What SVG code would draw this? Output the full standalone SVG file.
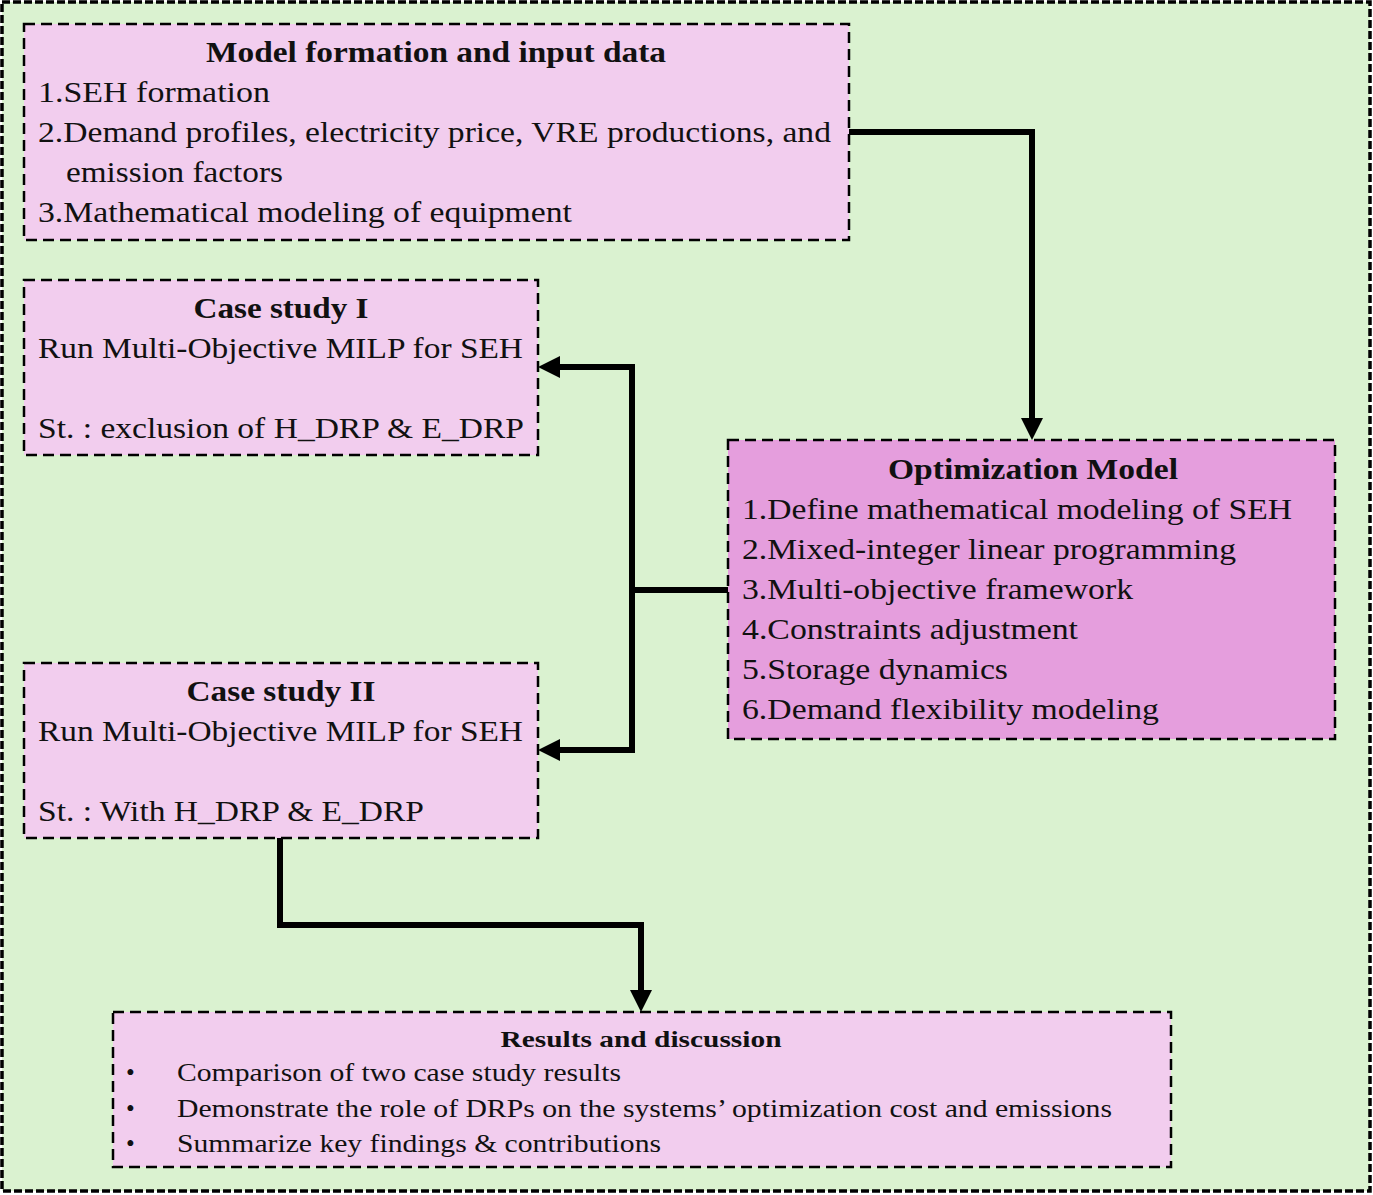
<svg xmlns="http://www.w3.org/2000/svg" width="1373" height="1195" viewBox="0 0 1373 1195">
<style>
.frame{fill:#DAF2D0;stroke:#000;stroke-width:3.5;stroke-dasharray:8 3}
.box{fill:#F2CDEE;stroke:#000;stroke-width:2.5;stroke-dasharray:11 6}
.opt{fill:#E59EDD;stroke:#000;stroke-width:2.5;stroke-dasharray:11 6}
.t{font-size:29px;font-weight:bold;text-anchor:middle}
.b{font-size:29px}
.rt{font-size:24px;font-weight:bold;text-anchor:middle}
.rb{font-size:25px}
.conn{fill:none;stroke:#000;stroke-width:6;stroke-linejoin:miter}
</style>
<defs>
<marker id="ah" viewBox="0 0 22 22" markerWidth="22" markerHeight="22" refX="0" refY="11" orient="auto" markerUnits="userSpaceOnUse">
<path d="M0,0 L22,11 L0,22 z" fill="#000"/>
</marker>
</defs>
<rect class="frame" x="2" y="2" width="1368" height="1189"/>
<g font-family="'Liberation Serif', Tinos, 'Times New Roman', 'Nimbus Roman', serif" fill="#111">
<g id="model-formation">
<rect class="box" x="24" y="24" width="825" height="216"/>
<text class="t" x="436" y="62" textLength="460" lengthAdjust="spacingAndGlyphs">Model formation and input data</text>
<text class="b" x="38" y="102" textLength="232" lengthAdjust="spacingAndGlyphs">1.SEH formation</text>
<text class="b" x="38" y="142" textLength="793" lengthAdjust="spacingAndGlyphs">2.Demand profiles, electricity price, VRE productions, and</text>
<text class="b" x="66" y="182" textLength="217" lengthAdjust="spacingAndGlyphs">emission factors</text>
<text class="b" x="38" y="222" textLength="534" lengthAdjust="spacingAndGlyphs">3.Mathematical modeling of equipment</text>
</g>
<g id="case-study-1">
<rect class="box" x="24" y="280" width="514" height="175"/>
<text class="t" x="281" y="318" textLength="175" lengthAdjust="spacingAndGlyphs">Case study I</text>
<text class="b" x="38" y="358" textLength="485" lengthAdjust="spacingAndGlyphs">Run Multi-Objective MILP for SEH</text>
<text class="b" x="38" y="438" textLength="486" lengthAdjust="spacingAndGlyphs">St. : exclusion of H_DRP &amp; E_DRP</text>
</g>
<g id="case-study-2">
<rect class="box" x="24" y="663" width="514" height="175"/>
<text class="t" x="281" y="701" textLength="189" lengthAdjust="spacingAndGlyphs">Case study II</text>
<text class="b" x="38" y="741" textLength="485" lengthAdjust="spacingAndGlyphs">Run Multi-Objective MILP for SEH</text>
<text class="b" x="38" y="821" textLength="386" lengthAdjust="spacingAndGlyphs">St. : With H_DRP &amp; E_DRP</text>
</g>
<g id="optimization-model">
<rect class="opt" x="728" y="440" width="607" height="299"/>
<text class="t" x="1033" y="479" textLength="290" lengthAdjust="spacingAndGlyphs">Optimization Model</text>
<text class="b" x="742" y="519" textLength="550" lengthAdjust="spacingAndGlyphs">1.Define mathematical modeling of SEH</text>
<text class="b" x="742" y="559" textLength="494" lengthAdjust="spacingAndGlyphs">2.Mixed-integer linear programming</text>
<text class="b" x="742" y="599" textLength="391" lengthAdjust="spacingAndGlyphs">3.Multi-objective framework</text>
<text class="b" x="742" y="639" textLength="336" lengthAdjust="spacingAndGlyphs">4.Constraints adjustment</text>
<text class="b" x="742" y="679" textLength="266" lengthAdjust="spacingAndGlyphs">5.Storage dynamics</text>
<text class="b" x="742" y="719" textLength="417" lengthAdjust="spacingAndGlyphs">6.Demand flexibility modeling</text>
</g>
<g id="results">
<rect class="box" x="113" y="1012" width="1058" height="155"/>
<text class="rt" x="641" y="1047" textLength="281" lengthAdjust="spacingAndGlyphs">Results and discussion</text>
<text class="rb" x="126" y="1081">•</text>
<text class="rb" x="177" y="1081" textLength="444" lengthAdjust="spacingAndGlyphs">Comparison of two case study results</text>
<text class="rb" x="126" y="1117">•</text>
<text class="rb" x="177" y="1117" textLength="935" lengthAdjust="spacingAndGlyphs">Demonstrate the role of DRPs on the systems’ optimization cost and emissions</text>
<text class="rb" x="126" y="1152">•</text>
<text class="rb" x="177" y="1152" textLength="484" lengthAdjust="spacingAndGlyphs">Summarize key findings &amp; contributions</text>
</g>
</g>
<g id="connectors">
<path class="conn" d="M849,132 H1032 V418" marker-end="url(#ah)"/>
<path class="conn" d="M728,590 H632"/>
<path class="conn" d="M632,590 V367 H560" marker-end="url(#ah)"/>
<path class="conn" d="M632,590 V750 H560" marker-end="url(#ah)"/>
<path class="conn" d="M280,838 V925 H641 V990" marker-end="url(#ah)"/>
</g>
</svg>
